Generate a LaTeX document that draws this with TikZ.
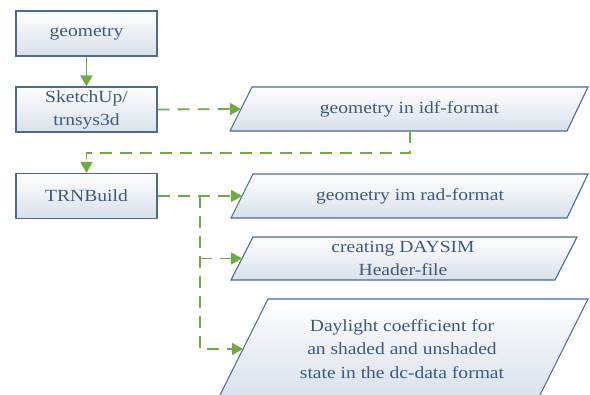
\documentclass[tikz,border=0pt]{standalone}
\usepackage{fontspec}
\setmainfont{Liberation Serif}[FakeStretch=1.15]
\usetikzlibrary{arrows.meta}
\definecolor{bord}{HTML}{4A6B93}
\definecolor{txtc}{HTML}{3C5A80}
\definecolor{grn}{HTML}{6BAE3E}
\definecolor{fillb}{HTML}{D8E0EA}
\begin{document}
\begin{tikzpicture}[x=1pt,y=-1pt,
 box/.style={draw=bord, line width=1.1pt, top color=white, bottom color=fillb, minimum width=141pt, minimum height=45pt, inner sep=0pt, text=txtc, font=\fontsize{17}{23}\selectfont, align=center},
 para/.style={draw=bord, line width=1.1pt, top color=white, bottom color=fillb},
 ptxt/.style={text=txtc, font=\fontsize{17}{23.5}\selectfont, align=center, inner sep=0pt},
 link/.style={draw=grn, line width=1.8pt, dash pattern=on 12pt off 8pt},
 solidlink/.style={draw=grn, line width=1.8pt},
 tip/.style={-{Triangle[length=11pt,width=12pt]}}]
\fill[white] (0,0) rectangle (590,395);
\useasboundingbox (0,0) rectangle (590,395);
\clip (0,0) rectangle (590,395);

% left boxes
\node[box] (geo) at (86.5,33.5) {geometry};
\node[box] (sk) at (86.5,109.5) {SketchUp/\\trnsys3d};
\node[box] (trn) at (86.5,196) {TRNBuild};

% parallelograms
\path[para] (230,131) -- (252,87) -- (588,87) -- (567,131) -- cycle;
\path[para] (231,218) -- (253,174) -- (588,174) -- (567,218) -- cycle;
\path[para] (231,280) -- (253,237) -- (577,237) -- (555,280) -- cycle;
\path[para] (218,399) -- (268,299) -- (588,299) -- (538,399) -- cycle;

\node[ptxt] (idf) at (409.5,109) {geometry in idf-format};
\node[ptxt] (rad) at (410,196) {geometry im rad-format};
\node[ptxt] (ds) at (403,258.5) {creating DAYSIM\\Header-file};
\node[ptxt] (day) at (402,349) {Daylight coefficient for\\an shaded and unshaded\\state in the dc-data format};

\coordinate (idfW) at (241,109);
\coordinate (idfS) at (410,131);
\coordinate (radW) at (242,196);
\coordinate (dsW) at (242,258.5);
\coordinate (dayW) at (243,349);
\coordinate (br) at (200,196);

% connectors
\draw[solidlink, tip] (geo) -- (sk);
\draw[link, tip] (sk.east) -- (idfW);
\draw[link, tip] (idfS) -- ++(0,22) -| (trn.north);
\draw[link, tip] (trn.east) -- (radW);
\draw[link, tip] (br) |- (dayW);
\draw[link, tip] (br |- dsW) -- (dsW);
\end{tikzpicture}
\end{document}
